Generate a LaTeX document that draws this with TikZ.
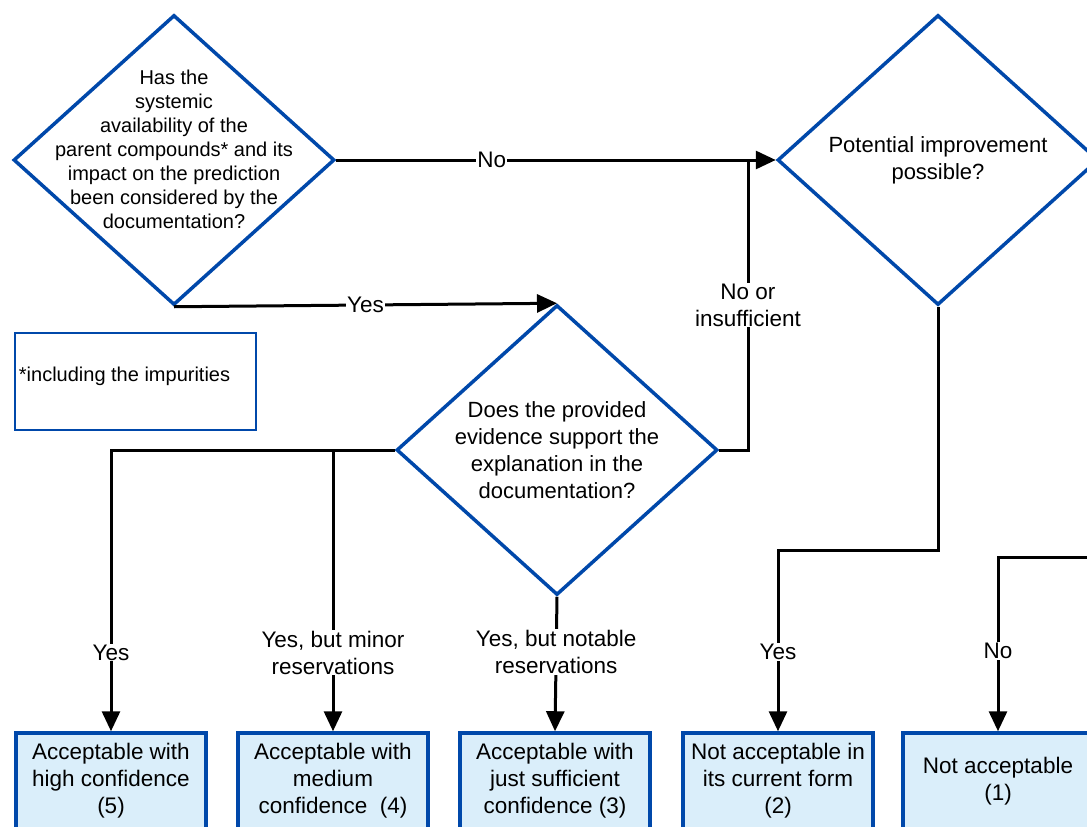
\documentclass[tikz,border=0pt]{standalone}
\usepackage{fontspec}
\setmainfont{Liberation Sans}
\usetikzlibrary{shapes.geometric,arrows.meta}
\definecolor{qblue}{RGB}{0,72,170}
\definecolor{qfill}{RGB}{218,238,250}
\begin{document}
\begin{tikzpicture}[x=1pt,y=-1pt,
    question/.style={diamond,draw=qblue,line width=3.5pt,fill=white,inner sep=0pt,
      minimum width=321pt,minimum height=290pt},
    qtext/.style={font=\fontsize{22}{27}\selectfont,align=center},
    outcome/.style={rectangle,draw=qblue,line width=3.5pt,fill=qfill,
      minimum width=190pt,minimum height=96pt,font=\fontsize{22.5}{27}\selectfont,align=center},
    answer/.style={fill=white,inner sep=1pt,font=\fontsize{22.5}{27}\selectfont,align=center},
    flow/.style={black,line width=3pt,-{Triangle[length=20pt,width=18pt]}}]
      \useasboundingbox (0,0) rectangle (1087,827);
      \clip (0,0) rectangle (1087,827);
      \node[question,label={[qtext,font=\fontsize{20}{24}\selectfont,yshift=11pt]center:{Has the\\systemic\\availability of the\\parent compounds* and its\\impact on the prediction\\been considered by the\\documentation?}}] (avail) at (174,160) {};
      \node[question,label={[qtext]center:{Does the provided\\evidence support the\\explanation in the\\documentation?}}] (evidence) at (557,450) {};
      \node[question,label={[qtext]center:{Potential improvement\\possible?}}] (improve) at (938,160) {};
      \node[rectangle,draw=qblue,line width=1.5pt,fill=white,minimum width=241pt,minimum height=97pt,
        label={[anchor=west,inner sep=4.5pt,yshift=5pt,font=\fontsize{20}{24}\selectfont]west:{*including the impurities}}] (note) at (135.5,381.5) {};
      \node[outcome] (high) at (111,781) {Acceptable with\\high confidence\\(5)};
      \node[outcome] (medium) at (333,781) {Acceptable with\\medium\\confidence~~(4)};
      \node[outcome] (sufficient) at (555,781) {Acceptable with\\just sufficient\\confidence (3)};
      \node[outcome] (current) at (778,781) {Not acceptable in\\its current form\\(2)};
      \node[outcome] (notacc) at (998,781) {Not acceptable\\(1)};
      \coordinate (join) at (748,160);
      \coordinate (split) at (medium.north |- evidence.west);
      \coordinate (fromright) at (1120,557);
      \begin{scope}[flow]
        \draw (avail.east) -- node[answer,pos=0.354]{No} (improve.west);
        \draw (avail.south) -- node[answer]{Yes} (evidence.north);
        \draw[-] (evidence.east) -| node[answer,pos=0.75]{No or\\insufficient} (join);
        \draw (evidence.west) -| node[answer,pos=0.86]{Yes} (high.north);
        \draw (split) -- node[answer,pos=0.72]{Yes, but minor\\reservations} (medium.north);
        \draw (evidence.south) -- node[answer,pos=0.41]{Yes, but notable\\reservations} (sufficient.north);
        \draw (improve.south) -- ++(0,244) -| node[answer,pos=0.78]{Yes} (current.north);
        \draw (fromright) -| node[answer,pos=0.77]{No} (notacc.north);
      \end{scope}
    \end{tikzpicture}
\end{document}
